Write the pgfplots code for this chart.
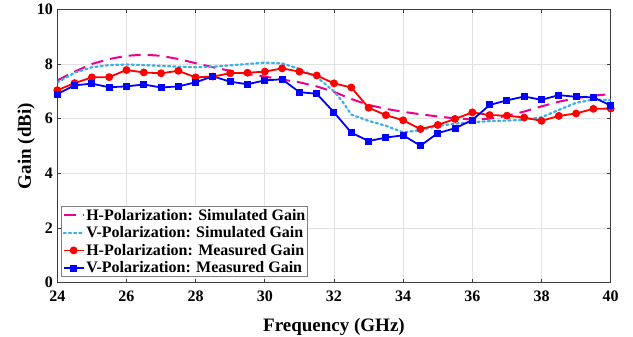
\documentclass[border=0pt]{standalone}
\usepackage{pgfplots}
\pgfplotsset{compat=1.18}
\usepackage{fontspec}
\setmainfont{Liberation Serif}
\definecolor{hsim}{RGB}{236,0,140}
\definecolor{vsim}{RGB}{60,175,230}
\definecolor{gridc}{RGB}{225,225,225}
\definecolor{axc}{RGB}{60,60,60}
\begin{document}
\begin{tikzpicture}[x=1pt,y=1pt]
\useasboundingbox (-57.3,-54.3) rectangle (575.7,282.7);
\begin{axis}[
  at={(0,0)}, anchor=south west,
  scale only axis, width=553.4pt, height=273.4pt,
  xmin=24, xmax=40, ymin=0, ymax=10,
  xtick={24,26,...,40}, ytick={0,2,...,10},
  tick align=inside, tick pos=both,
  major tick length=4pt,
  grid=major, major grid style={gridc, line width=0.8pt},
  axis line style={axc, line width=0.8pt},
  tick style={axc, line width=0.8pt},
  /pgf/number format/assume math mode=true,
  ticklabel style={font=\fontsize{16}{18}\selectfont\bfseries},
  xticklabel style={yshift=-5pt},
  yticklabel style={xshift=-1pt},
  label style={font=\fontsize{19}{22}\selectfont\bfseries},
  xlabel={Frequency (GHz)},
  ylabel={Gain (dBi)},
  xlabel style={yshift=-9pt},
  ylabel style={yshift=-5pt},
  legend style={at={(0.007,0.02)}, anchor=south west, draw=gray, line width=0.8pt,
    font=\fontsize{16}{18.75}\selectfont\bfseries, inner sep=1pt, row sep=2pt,
    nodes={inner sep=1.5pt}},
  legend cell align=left,
  legend image code/.code={\draw[mark repeat=2,mark phase=2] plot coordinates {(0pt,0pt) (10pt,0pt) (20pt,0pt)};},
]
\addplot[hsim, line width=2pt, dash pattern=on 12pt off 7pt] coordinates {
(24,7.40) (24.5,7.72) (25,8.00) (25.5,8.18) (26,8.30) (26.5,8.34) (27,8.30) (27.5,8.18)
(28,8.03) (28.5,7.88) (29,7.75) (29.5,7.63) (30,7.54) (30.5,7.43) (31,7.33) (31.5,7.18)
(32,6.98) (32.5,6.72) (33,6.50) (33.5,6.36) (34,6.25) (34.5,6.16) (35,6.08) (35.5,6.01)
(36,5.97) (36.5,6.00) (37,6.10) (37.5,6.26) (38,6.45) (38.5,6.62) (39,6.75) (39.5,6.84) (40,6.90)};
\addlegendentry{H-Polarization: Simulated Gain}
\addplot[vsim, line width=2.2pt, dash pattern=on 2.2pt off 3pt, line cap=round] coordinates {
(24,7.32) (24.5,7.68) (25,7.88) (25.5,7.96) (26,7.98) (26.5,7.96) (27,7.93) (27.5,7.90)
(28,7.88) (28.5,7.90) (29,7.95) (29.5,8.00) (30,8.05) (30.5,8.02) (31,7.82) (31.5,7.52)
(32,7.00) (32.25,6.62) (32.5,6.15) (33,5.92) (33.5,5.74) (34,5.50) (34.5,5.58) (35,5.73) (35.5,5.82)
(36,5.87) (36.5,5.91) (37,5.93) (37.5,5.96) (38,6.05) (38.5,6.32) (39,6.58) (39.5,6.70) (40,6.68)};
\addlegendentry{V-Polarization: Simulated Gain}
\addplot[red, line width=1.8pt, mark=*, mark size=3pt] coordinates {
(24,7.04) (24.5,7.30) (25,7.51) (25.5,7.52) (26,7.78) (26.5,7.69) (27,7.66) (27.5,7.75)
(28,7.51) (28.5,7.54) (29,7.66) (29.5,7.68) (30,7.72) (30.5,7.84) (31,7.72) (31.5,7.58)
(32,7.29) (32.5,7.14) (33,6.40) (33.5,6.13) (34,5.94) (34.5,5.62) (35,5.77) (35.5,5.99)
(36,6.23) (36.5,6.13) (37,6.11) (37.5,6.04) (38,5.92) (38.5,6.10) (39,6.19) (39.5,6.36) (40,6.37)};
\addlegendentry{H-Polarization: Measured Gain}
\addplot[blue, line width=1.8pt, mark=square*, mark size=2.6pt] coordinates {
(24,6.90) (24.5,7.22) (25,7.28) (25.5,7.15) (26,7.18) (26.5,7.25) (27,7.14) (27.5,7.18)
(28,7.33) (28.5,7.55) (29,7.35) (29.5,7.26) (30,7.40) (30.5,7.44) (31,6.97) (31.5,6.91)
(32,6.23) (32.5,5.49) (33,5.18) (33.5,5.31) (34,5.39) (34.5,5.01) (35,5.47) (35.5,5.65)
(36,5.95) (36.5,6.50) (37,6.67) (37.5,6.81) (38,6.69) (38.5,6.86) (39,6.80) (39.5,6.78) (40,6.48)};
\addlegendentry{V-Polarization: Measured Gain}
\end{axis}
\end{tikzpicture}
\end{document}
